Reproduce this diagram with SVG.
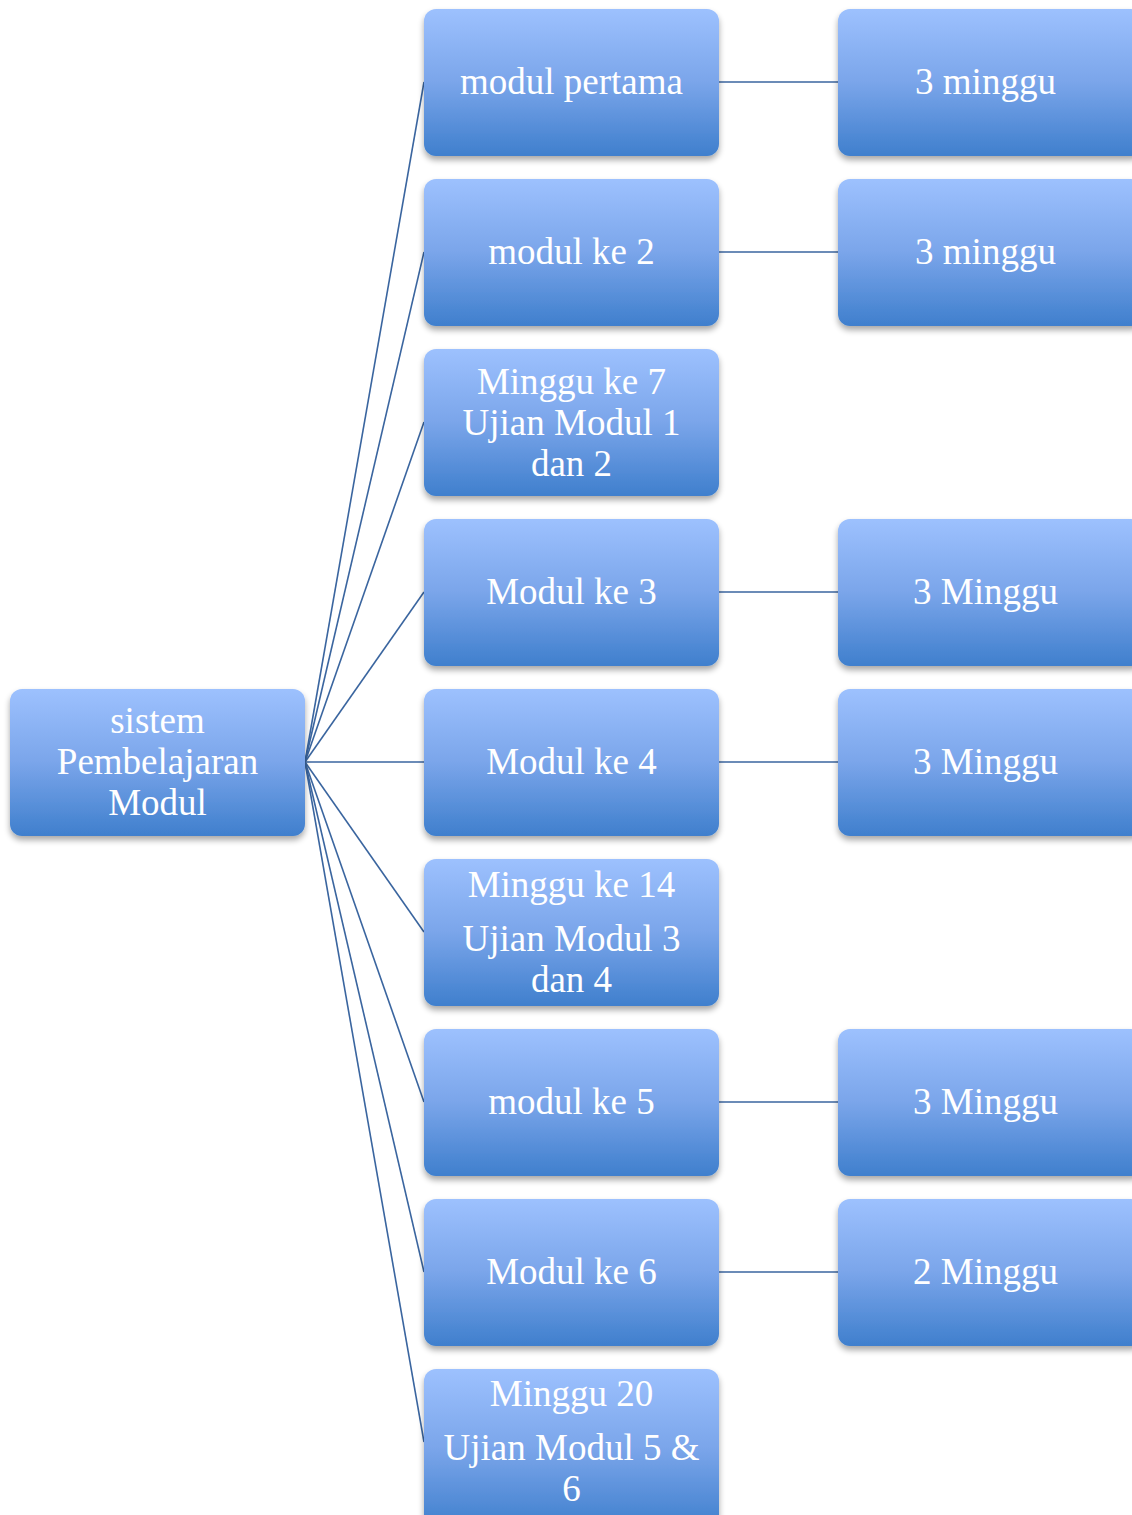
<svg xmlns="http://www.w3.org/2000/svg" width="1132" height="1515" viewBox="0 0 1132 1515">
<defs>
<linearGradient id="g" x1="0" y1="0" x2="0" y2="1">
<stop offset="0" stop-color="#9dc1fe"/>
<stop offset="0.5" stop-color="#7aa5ea"/>
<stop offset="1" stop-color="#3f7fcd"/>
</linearGradient>
<filter id="sh" x="-10%" y="-10%" width="120%" height="130%">
<feGaussianBlur in="SourceAlpha" stdDeviation="3"/>
<feOffset dx="0" dy="4" result="b"/>
<feComponentTransfer><feFuncA type="linear" slope="0.35"/></feComponentTransfer>
<feMerge><feMergeNode/><feMergeNode in="SourceGraphic"/></feMerge>
</filter>
</defs>
<style>
.box{fill:url(#g);filter:url(#sh)}
.t{font-family:"Liberation Serif","DejaVu Serif",serif;font-size:37px;fill:#ffffff;text-anchor:middle}
.c{stroke:#3a659f;stroke-width:1.6;fill:none}
</style>
<g id="connectors">
<line class="c" x1="305" y1="762" x2="424" y2="82"/>
<line class="c" x1="305" y1="762" x2="424" y2="252"/>
<line class="c" x1="305" y1="762" x2="424" y2="422"/>
<line class="c" x1="305" y1="762" x2="424" y2="592"/>
<line class="c" x1="305" y1="762" x2="424" y2="762"/>
<line class="c" x1="305" y1="762" x2="424" y2="932"/>
<line class="c" x1="305" y1="762" x2="424" y2="1102"/>
<line class="c" x1="305" y1="762" x2="424" y2="1272"/>
<line class="c" x1="305" y1="762" x2="424" y2="1442"/>
<line class="c" x1="719" y1="82" x2="838" y2="82"/>
<line class="c" x1="719" y1="252" x2="838" y2="252"/>
<line class="c" x1="719" y1="592" x2="838" y2="592"/>
<line class="c" x1="719" y1="762" x2="838" y2="762"/>
<line class="c" x1="719" y1="1102" x2="838" y2="1102"/>
<line class="c" x1="719" y1="1272" x2="838" y2="1272"/>
</g>
<g id="root"><rect class="box" x="10" y="689" width="295" height="147" rx="12"/><text class="t" x="157.5" y="733">sistem</text><text class="t" x="157.5" y="774">Pembelajaran</text><text class="t" x="157.5" y="815">Modul</text></g>
<g id="m1"><rect class="box" x="424" y="9" width="295" height="147" rx="12"/><text class="t" x="571.5" y="94">modul pertama</text></g>
<g id="m2"><rect class="box" x="424" y="179" width="295" height="147" rx="12"/><text class="t" x="571.5" y="264">modul ke 2</text></g>
<g id="u1"><rect class="box" x="424" y="349" width="295" height="147" rx="12"/><text class="t" x="571.5" y="394">Minggu ke 7</text><text class="t" x="571.5" y="435">Ujian Modul 1</text><text class="t" x="571.5" y="476">dan 2</text></g>
<g id="m3"><rect class="box" x="424" y="519" width="295" height="147" rx="12"/><text class="t" x="571.5" y="604">Modul ke 3</text></g>
<g id="m4"><rect class="box" x="424" y="689" width="295" height="147" rx="12"/><text class="t" x="571.5" y="774">Modul ke 4</text></g>
<g id="u2"><rect class="box" x="424" y="859" width="295" height="147" rx="12"/><text class="t" x="571.5" y="897">Minggu ke 14</text><text class="t" x="571.5" y="951">Ujian Modul 3</text><text class="t" x="571.5" y="992">dan 4</text></g>
<g id="m5"><rect class="box" x="424" y="1029" width="295" height="147" rx="12"/><text class="t" x="571.5" y="1114">modul ke 5</text></g>
<g id="m6"><rect class="box" x="424" y="1199" width="295" height="147" rx="12"/><text class="t" x="571.5" y="1284">Modul ke 6</text></g>
<g id="u3"><rect class="box" x="424" y="1369" width="295" height="160" rx="12"/><text class="t" x="571.5" y="1406">Minggu 20</text><text class="t" x="571.5" y="1460">Ujian Modul 5 &amp;</text><text class="t" x="571.5" y="1501">6</text></g>
<g id="d1"><rect class="box" x="838" y="9" width="305" height="147" rx="12"/><text class="t" x="985.5" y="94">3 minggu</text></g>
<g id="d2"><rect class="box" x="838" y="179" width="305" height="147" rx="12"/><text class="t" x="985.5" y="264">3 minggu</text></g>
<g id="d3"><rect class="box" x="838" y="519" width="305" height="147" rx="12"/><text class="t" x="985.5" y="604">3 Minggu</text></g>
<g id="d4"><rect class="box" x="838" y="689" width="305" height="147" rx="12"/><text class="t" x="985.5" y="774">3 Minggu</text></g>
<g id="d5"><rect class="box" x="838" y="1029" width="305" height="147" rx="12"/><text class="t" x="985.5" y="1114">3 Minggu</text></g>
<g id="d6"><rect class="box" x="838" y="1199" width="305" height="147" rx="12"/><text class="t" x="985.5" y="1284">2 Minggu</text></g>
</svg>
